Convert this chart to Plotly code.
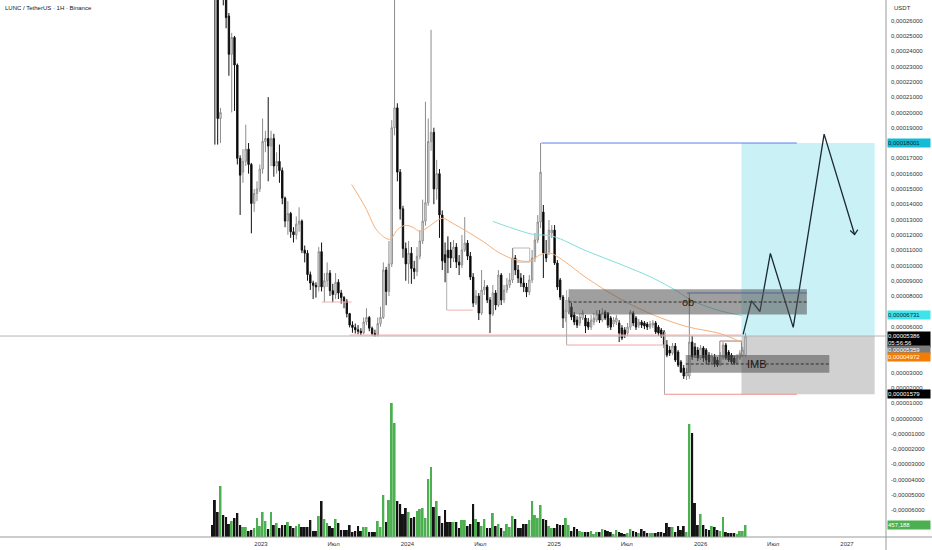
import plotly.graph_objects as go
import pandas as pd

SCALE = 1e-5          # prices below are in units of 0.00001 USDT
START = "2022-09-01"  # first weekly candle

opens = [31.0, 29.0, 27.5, 19.6, 28.5, 27.5, 26.3, 23.8, 24.9, 23.1,
         17.0, 16.1, 16.8, 17.6, 16.6, 14.05, 14.7, 15.0, 16.3, 18.1,
         18.3, 17.8, 18.3, 16.5, 16.8, 16.2, 14.4, 12.9, 13.4, 12.2,
         12.0, 12.7, 12.9, 11.0, 10.8, 9.4, 8.85, 8.7, 8.6, 10.9,
         8.6, 9.0, 9.5, 8.35, 8.1, 8.9, 8.2, 7.9, 7.65, 6.85,
         6.1, 5.95, 5.8, 5.7, 5.6, 6.3, 6.6, 5.9, 5.55, 5.45,
         6.2, 6.6, 9.7, 8.3, 10.1, 19.0, 20.3, 16.1, 13.7, 11.1,
         10.1, 10.8, 9.8, 9.6, 10.6, 11.6, 12.9, 14.1, 18.1, 18.7,
         15.0, 16.0, 13.3, 10.7, 11.0, 11.01, 10.48, 11.20, 10.22, 10.03,
         11.01, 11.46, 10.61, 9.24, 7.54, 8.00, 6.89, 8.39, 8.59, 7.74,
         6.82, 8.20, 7.41, 9.37, 7.74, 8.39, 8.72, 9.05, 10.48, 9.70,
         9.18, 8.85, 8.59, 8.26, 9.05, 10.48, 11.66, 12.84, 13.49, 10.81,
         10.88, 12.12, 12.31, 10.16, 9.05, 7.93, 6.56, 6.95, 7.28, 6.76,
         6.43, 6.24, 6.56, 6.56, 6.30, 5.97, 6.30, 6.43, 6.82, 6.43,
         6.95, 6.89, 6.56, 6.17, 6.30, 6.24, 5.91, 5.78, 5.58, 5.97,
         6.89, 6.56, 6.10, 6.30, 6.24, 6.17, 5.97, 6.10, 6.24, 5.97,
         5.78, 5.65, 4.80, 4.47, 4.27, 4.73, 4.34, 3.69, 3.29, 2.77,
         2.77, 4.99, 4.67, 4.47, 3.95, 4.60, 4.47, 4.14, 3.69, 4.01,
         3.82, 3.49, 3.95, 4.80, 4.34, 4.14, 3.95, 3.62, 3.95, 4.14,
         4.14]

highs = [33.0, 30.0, 28.0, 20.3, 29.0, 28.0, 26.5, 25.2, 25.0, 23.2,
         17.2, 17.6, 19.2, 18.0, 16.7, 15.0, 15.5, 16.6, 19.6, 18.8,
         21.0, 18.8, 18.6, 17.4, 17.9, 16.4, 14.5, 14.2, 13.5, 12.5,
         13.2, 13.8, 13.0, 11.3, 11.0, 9.6, 9.0, 8.9, 11.2, 11.5,
         9.5, 10.2, 9.7, 8.8, 9.5, 9.1, 8.4, 8.0, 7.8, 6.9,
         6.35, 6.2, 6.1, 5.9, 6.6, 7.2, 6.7, 6.0, 5.8, 6.6,
         7.3, 10.2, 9.9, 11.6, 19.5, 27.5, 20.6, 16.3, 13.9, 11.5,
         11.6, 11.2, 10.3, 11.2, 12.3, 14.3, 20.7, 19.6, 25.4, 19.0,
         16.9, 16.3, 13.6, 11.5, 11.9, 11.53, 11.66, 11.46, 10.68, 11.99,
         13.16, 11.66, 10.88, 9.50, 8.39, 8.20, 9.70, 9.05, 8.72, 7.93,
         8.72, 8.39, 9.70, 9.50, 8.72, 9.18, 9.50, 11.14, 10.68, 10.03,
         9.50, 9.37, 8.85, 9.37, 11.01, 12.12, 13.29, 18.001, 13.95, 11.66,
         12.97, 12.64, 12.64, 10.35, 9.18, 8.07, 7.74, 7.93, 7.54, 6.95,
         6.69, 6.89, 7.08, 6.76, 6.56, 6.76, 6.89, 7.08, 7.08, 7.21,
         7.08, 6.95, 6.69, 6.63, 6.76, 6.43, 6.10, 5.97, 6.24, 7.08,
         7.01, 6.69, 6.50, 6.43, 6.37, 6.30, 6.37, 6.43, 6.37, 6.10,
         5.91, 5.78, 5.12, 4.73, 4.93, 4.93, 4.47, 3.82, 3.49, 3.29,
         8.20, 5.39, 4.93, 4.67, 4.80, 4.73, 4.60, 4.34, 4.27, 4.21,
         4.01, 4.34, 4.99, 4.93, 4.47, 4.27, 4.08, 4.21, 4.47, 4.67,
         5.58]

lows = [28.0, 17.9, 17.9, 18.0, 27.0, 25.5, 22.4, 20.0, 20.1, 16.6,
        13.3, 15.4, 16.5, 16.0, 12.1, 13.5, 14.2, 14.8, 16.0, 17.4,
        15.5, 16.5, 15.8, 16.0, 15.4, 14.0, 12.5, 12.0, 11.8, 11.5,
        11.7, 12.2, 10.8, 10.2, 9.0, 8.4, 7.8, 7.9, 8.3, 8.3,
        7.6, 8.6, 8.0, 7.6, 7.8, 7.8, 7.5, 7.2, 6.6, 5.95,
        5.6, 5.55, 5.5, 5.45, 5.5, 6.1, 5.7, 5.4, 5.35, 5.35,
        6.0, 6.5, 7.4, 8.0, 9.9, 18.5, 15.5, 13.0, 10.5, 9.0,
        8.8, 8.8, 9.1, 9.3, 10.4, 11.4, 12.6, 13.9, 17.5, 14.0,
        14.3, 11.8, 9.7, 8.9, 9.5, 9.83, 10.22, 9.83, 9.37, 9.83,
        10.88, 10.35, 9.05, 7.28, 7.41, 6.43, 6.76, 8.07, 7.54, 5.58,
        6.69, 7.08, 7.28, 7.41, 7.54, 8.20, 8.52, 8.85, 9.37, 8.85,
        8.59, 8.26, 7.93, 8.07, 8.85, 10.22, 11.46, 12.44, 9.18, 10.22,
        10.68, 11.79, 10.03, 8.39, 7.74, 5.91, 6.30, 6.82, 6.43, 6.10,
        5.91, 6.04, 6.43, 5.58, 5.78, 5.78, 6.10, 6.30, 6.24, 6.30,
        6.43, 5.91, 5.78, 5.97, 6.10, 4.99, 5.12, 5.26, 5.39, 5.78,
        6.04, 5.78, 5.91, 5.91, 5.84, 5.78, 5.84, 5.91, 5.52, 5.39,
        5.26, 4.60, 4.01, 4.08, 4.14, 3.69, 3.36, 2.97, 2.58, 2.51,
        2.58, 3.82, 3.95, 3.75, 3.82, 3.69, 3.56, 3.49, 3.56, 3.36,
        3.36, 3.43, 3.82, 3.82, 3.69, 3.56, 3.49, 3.56, 3.82, 4.01,
        4.01]

closes = [29.0, 27.5, 19.6, 20.0, 27.5, 26.2, 23.8, 24.9, 23.1, 17.0,
          15.9, 16.8, 17.6, 16.6, 14.05, 14.7, 15.0, 16.3, 18.1, 18.3,
          17.8, 18.3, 16.5, 16.8, 16.2, 14.4, 12.9, 13.4, 12.2, 12.0,
          12.7, 12.9, 11.0, 10.8, 9.4, 8.85, 8.7, 8.6, 10.9, 8.6,
          9.0, 9.5, 8.35, 8.1, 8.9, 8.2, 7.9, 7.65, 6.85, 6.1,
          5.95, 5.8, 5.7, 5.6, 6.3, 6.6, 5.9, 5.55, 5.45, 6.2,
          6.6, 9.7, 8.3, 10.1, 19.0, 20.3, 16.1, 13.7, 11.1, 10.1,
          10.8, 9.8, 9.6, 10.6, 11.6, 12.9, 14.1, 18.1, 18.7, 15.0,
          16.0, 13.3, 10.3, 10.2, 10.5, 10.48, 11.20, 10.22, 10.03, 11.01,
          11.46, 10.61, 9.24, 7.54, 8.00, 6.89, 8.39, 8.59, 7.74, 6.82,
          8.20, 7.41, 9.37, 7.74, 8.39, 8.72, 9.05, 10.48, 9.70, 9.18,
          8.85, 8.59, 8.26, 9.05, 10.48, 11.66, 12.84, 16.10, 10.81, 10.48,
          12.31, 12.31, 10.16, 8.59, 7.93, 6.56, 7.08, 7.74, 6.63, 6.30,
          6.10, 6.63, 6.89, 6.04, 5.97, 6.43, 6.56, 6.82, 6.43, 6.89,
          6.56, 6.10, 5.97, 6.43, 6.56, 5.58, 5.26, 5.45, 5.97, 6.95,
          6.24, 5.97, 6.30, 6.10, 6.04, 5.97, 6.17, 6.24, 5.65, 5.58,
          5.39, 4.80, 4.14, 4.27, 4.73, 3.82, 3.49, 3.03, 2.77, 3.03,
          4.99, 4.01, 4.14, 3.95, 4.60, 3.95, 3.82, 3.69, 4.08, 3.56,
          3.49, 4.14, 4.80, 3.95, 3.82, 3.69, 3.62, 4.01, 4.27, 4.47,
          5.386]

# weekly volume, thousands
volume_k = [456, 1406, 950, 1938, 836, 760, 494, 608, 722, 912,
            456, 380, 380, 228, 266, 342, 722, 418, 950, 608,
            304, 950, 456, 532, 342, 456, 456, 570, 418, 342,
            418, 494, 380, 380, 380, 646, 228, 228, 798, 1368,
            684, 532, 418, 342, 684, 532, 266, 266, 266, 456,
            190, 228, 418, 228, 380, 380, 190, 190, 190, 608,
            380, 1596, 570, 1406, 5092, 4332, 1368, 1254, 874, 1102,
            950, 722, 760, 988, 1064, 1102, 722, 2204, 2660, 1140,
            1368, 798, 532, 1026, 570, 570, 570, 570, 342, 646,
            646, 418, 494, 1254, 684, 570, 418, 684, 342, 342,
            912, 418, 494, 342, 228, 494, 380, 798, 684, 342,
            342, 494, 494, 646, 1368, 836, 722, 1216, 684, 646,
            418, 342, 342, 494, 456, 456, 722, 456, 228, 380,
            304, 228, 190, 190, 190, 228, 114, 190, 190, 304,
            266, 228, 190, 114, 266, 190, 152, 114, 152, 304,
            228, 190, 152, 304, 228, 152, 152, 152, 152, 190,
            190, 152, 532, 380, 380, 190, 418, 266, 418, 190,
            4294, 3952, 1292, 456, 874, 456, 304, 266, 418, 380,
            266, 228, 760, 190, 152, 152, 152, 114, 228, 228,
            457.188]

# moving-average readings (orange = slow MA, cyan = longer MA)
ma_orange_dates = ["2023-08-15", "2023-09-17", "2023-10-19", "2023-11-18", "2023-12-08",
                   "2023-12-26", "2024-01-15", "2024-02-01", "2024-02-21", "2024-03-12",
                   "2024-03-29", "2024-04-23", "2024-05-28", "2024-07-07", "2024-08-18",
                   "2024-09-30", "2024-11-01", "2024-11-26", "2024-12-21", "2025-01-15",
                   "2025-03-23", "2025-06-14", "2025-09-04", "2025-11-28", "2026-02-18",
                   "2026-04-14"]
ma_orange = [15.29, 13.86, 12.23, 11.71, 12.36, 12.62, 12.49, 12.23, 12.49, 12.88,
             13.08, 12.75, 12.23, 11.58, 10.81, 10.35, 10.29, 10.68, 10.81, 10.48,
             9.18, 7.82, 6.78, 6.00, 5.55, 4.972]
ma_cyan_dates = ["2024-08-01", "2024-09-12", "2024-11-08", "2024-12-28", "2025-03-23",
                 "2025-06-14", "2025-09-04", "2025-11-02", "2025-12-12", "2026-02-18",
                 "2026-04-14"]
ma_cyan = [12.88, 12.49, 12.04, 11.91, 10.94, 10.09, 9.18, 8.34, 7.69, 7.04, 6.731]

# projected path drawing
path_dates = ["2026-04-17", "2026-05-08", "2026-05-29", "2026-06-24", "2026-08-20",
              "2026-11-05", "2027-01-20"]
path_vals = [5.50, 7.69, 6.99, 10.79, 5.95, 18.58, 12.02]
head_dates = ["2027-01-09", "2027-01-20", "2027-01-28"]
head_vals = [12.28, 12.02, 12.34]

# levels
ENTRY, TARGET, STOP = 5.386, 18.001, 1.579
MA_LAST_ORANGE, MA_LAST_CYAN, OTHER = 4.972, 6.731, 5.359

x_tick_vals = ["2023-01-01", "2023-07-01", "2024-01-01", "2024-07-01", "2025-01-01",
               "2025-07-01", "2026-01-01", "2026-07-01", "2027-01-01"]
x_tick_text = ["2023", "Июл", "2024", "Июл", "2025", "Июл", "2026", "Июл", "2027"]
y_ticks = [k for k in range(-6, 27) if k not in (4, 5, 7, 18)]

S = lambda arr: [v * SCALE for v in arr]
dates = pd.date_range(START, periods=len(closes), freq="7D")
vol_colors = ["#4caf50" if c >= o else "#141414" for o, c in zip(opens, closes)]

FONT = "Liberation Sans, Arial, sans-serif"
fig = go.Figure()
fig.add_trace(go.Bar(x=dates, y=volume_k, yaxis="y2", marker_color=vol_colors,
                     marker_line_width=0, hoverinfo="skip"))
fig.add_trace(go.Scatter(x=ma_orange_dates, y=S(ma_orange), mode="lines",
                         line=dict(color="#f7b07a", width=1, shape="spline"), hoverinfo="skip"))
fig.add_trace(go.Scatter(x=ma_cyan_dates, y=S(ma_cyan), mode="lines",
                         line=dict(color="#7fe0dc", width=1, shape="spline"), hoverinfo="skip"))
fig.add_trace(go.Candlestick(x=dates, open=S(opens), high=S(highs), low=S(lows), close=S(closes),
                             increasing=dict(line=dict(color="#8c8c8c", width=1), fillcolor="#ffffff"),
                             decreasing=dict(line=dict(color="#111111", width=1), fillcolor="#000000"),
                             whiskerwidth=0, hoverinfo="skip"))
fig.add_trace(go.Scatter(x=path_dates, y=S(path_vals), mode="lines",
                         line=dict(color="#1c2833", width=1.3), hoverinfo="skip"))
fig.add_trace(go.Scatter(x=head_dates, y=S(head_vals), mode="lines",
                         line=dict(color="#1c2833", width=1.2), hoverinfo="skip"))

shapes = []
def rect(x0, x1, y0, y1, fill, line=None, layer="below"):
    shapes.append(dict(type="rect", xref="x", yref="y", x0=x0, x1=x1, y0=y0 * SCALE, y1=y1 * SCALE,
                       fillcolor=fill, line=dict(width=1 if line else 0, color=line or fill), layer=layer))
def hline(x0, x1, y, color, dash="solid", width=1):
    shapes.append(dict(type="line", xref="x", yref="y", x0=x0, x1=x1, y0=y * SCALE, y1=y * SCALE,
                       line=dict(color=color, width=width, dash=dash)))
def vline(x, y0, y1, color):
    shapes.append(dict(type="line", xref="x", yref="y", x0=x, x1=x, y0=y0 * SCALE, y1=y1 * SCALE,
                       line=dict(color=color, width=1)))

# long position zones
rect("2026-04-13", "2027-03-11", ENTRY, TARGET, "rgba(0,188,212,0.21)")
rect("2026-04-13", "2027-03-11", STOP, ENTRY, "rgba(120,120,120,0.34)")
# current price line + old low line
shapes.append(dict(type="line", xref="paper", yref="y", x0=0, x1=1, y0=ENTRY * SCALE, y1=ENTRY * SCALE,
                   line=dict(color="#b4b4b4", width=1)))
hline("2023-08-10", "2026-04-13", 5.45, "#f2a8a8")
# liquidity marks
hline("2023-06-02", "2023-08-15", 7.61, "#f2b0b0")
vline("2024-04-08", 7.08, 10.55, "#b0b0b0")
hline("2024-04-08", "2024-06-12", 7.08, "#f2b0b0")
rect("2024-09-20", "2024-11-01", 10.22, 11.14, "rgba(0,0,0,0)", line="#b8b8b8")
vline("2025-02-01", 4.80, 8.39, "#a8a8a8")
hline("2025-02-01", "2025-10-03", 4.80, "#f2a8a8")
vline("2025-10-03", STOP, 5.65, "#a8a8a8")
hline("2025-10-03", "2026-08-29", STOP, "#ef8f8f")
hline("2024-11-30", "2026-08-29", TARGET, "#5a7ef0")
hline("2025-11-28", "2026-09-23", 8.20, "#5a7ef0")
rect("2026-02-18", "2026-04-13", 4.08, 5.06, "rgba(0,0,0,0)", line="#9c7b6a")
# ob / IMB boxes
rect("2025-02-06", "2026-09-23", 6.80, 8.45, "rgba(80,80,80,0.55)", layer="above")
hline("2025-02-06", "2026-09-23", 7.61, "#2e2e2e", dash="3px,2px")
rect("2025-11-25", "2026-11-18", 2.99, 4.14, "rgba(80,80,80,0.55)", layer="above")
hline("2025-11-25", "2026-11-18", 3.56, "#2e2e2e", dash="3px,2px")
# axis frame lines
shapes.append(dict(type="line", xref="paper", yref="paper", x0=0, x1=932 / 886, y0=0, y1=0,
                   line=dict(color="#9a9a9a", width=1)))
shapes.append(dict(type="line", xref="paper", yref="paper", x0=1, x1=1, y0=-13 / 537, y1=1,
                   line=dict(color="#9a9a9a", width=1)))

ann = []
ann.append(dict(text="LUNC / TetherUS · 1H · Binance", xref="paper", yref="paper", x=0, y=1,
                xanchor="left", yanchor="top", xshift=3, yshift=-3, showarrow=False,
                font=dict(size=6, color="#131722", family=FONT)))
ann.append(dict(text="USDT", xref="paper", yref="paper", x=1, y=1, xanchor="left", yanchor="top",
                xshift=6, yshift=-3, showarrow=False, font=dict(size=6, color="#333", family=FONT)))
ann.append(dict(text="ob", xref="x", yref="y", x="2025-11-30", y=7.61 * SCALE, showarrow=False,
                font=dict(size=11, color="#1a1a1a", family=FONT)))
ann.append(dict(text="IMB", xref="x", yref="y", x="2026-05-21", y=3.56 * SCALE, showarrow=False,
                font=dict(size=11, color="#1a1a1a", family=FONT)))

def plabel(text, yval, bg, fg, yref="y", h=8):
    ann.append(dict(text=text, xref="paper", yref=yref, x=1, y=yval, xanchor="left", yanchor="middle",
                    xshift=1, showarrow=False, bgcolor=bg, width=42, height=h, align="left",
                    borderpad=0, font=dict(size=6, color=fg, family=FONT)))

fmt = lambda v: f"{v * SCALE:.8f}".replace(".", ",")
plabel(fmt(TARGET), TARGET * SCALE, "#12bcd4", "#0d2330")
plabel(fmt(MA_LAST_CYAN), MA_LAST_CYAN * SCALE, "#3fe3ea", "#0d2330")
plabel(fmt(ENTRY) + "<br>05:56:56", (ENTRY - 0.2) * SCALE, "#000000", "#ffffff", h=15)
plabel(fmt(OTHER), 4.47 * SCALE, "#7b7b7b", "#ffffff")
plabel(fmt(MA_LAST_ORANGE), 4.01 * SCALE, "#f57c00", "#ffffff")
plabel(fmt(STOP), STOP * SCALE, "#000000", "#ffffff")
plabel("457,188", volume_k[-1], "#4caf50", "#ffffff", yref="y2")

fig.update_layout(
    width=932, height=550, margin=dict(l=0, r=46, t=0, b=13),
    paper_bgcolor="white", plot_bgcolor="white", showlegend=False, bargap=0.3,
    font=dict(family=FONT, size=6, color="#333"),
    shapes=shapes, annotations=ann,
    xaxis=dict(type="date", range=["2021-03-21 07:00", "2027-04-08 07:00"], rangeslider=dict(visible=False),
               tickvals=x_tick_vals, ticktext=x_tick_text, showgrid=False, zeroline=False,
               showline=False, ticks="", ticklabelstandoff=2, tickfont=dict(size=6, color="#333")),
    yaxis=dict(side="right", range=[-7.75 * SCALE, 27.35 * SCALE], tickvals=[k * SCALE for k in y_ticks],
               ticktext=[("-" if k < 0 else "") + fmt(abs(k)) for k in y_ticks], showgrid=False,
               zeroline=False, showline=False, ticks="", ticklabelstandoff=4,
               tickfont=dict(size=6, color="#333")),
    yaxis2=dict(overlaying="y", range=[0, 537 * 38], visible=False),
)
fig.write_html("out.html", config={"displayModeBar": False},
               post_script="document.body.style.margin='0';document.body.style.overflow='hidden';")
